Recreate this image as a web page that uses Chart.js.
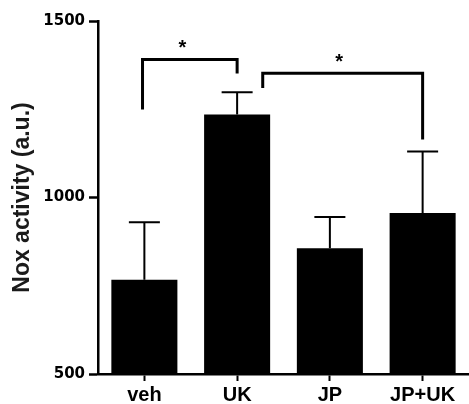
<!DOCTYPE html>
<html lang="en">
<head>
    <meta charset="UTF-8">
    <title>Nox activity</title>
    <script src="https://cdn.jsdelivr.net/npm/chart.js"></script>
    <style>
        * { margin: 0; padding: 0; box-sizing: border-box; }
        body { background: #fff; width: 469px; height: 404px; overflow: hidden; }
        .wrap { position: relative; width: 469px; height: 404px; }
    </style>
</head>
<body>
    <div class="wrap">
        <canvas id="noxChart"></canvas>
    </div>

    <script>
        // data
        const groups = ['veh', 'UK', 'JP', 'JP+UK'];
        const means = [767, 1235, 856, 956];
        const sems = [163, 63, 89, 174];
        const yTicks = [500, 1000, 1500];

        // significance brackets (x in category units, y in data units)
        const bracketFrom = [-0.02, 1.276];
        const bracketTo = [1.0, 3.0];
        const bracketTop = [1391, 1352];
        const bracketLeftEnd = [1249, 1310];
        const bracketRightEnd = [1351, 1164];
        const bracketStarAt = [0.41, 2.1];
        const bracketLabel = ['*', '*'];

        // error bars above each bar
        const errorBars = {
            id: 'errorBars',
            afterDatasetsDraw(chart) {
                const ctx = chart.ctx;
                const y = chart.scales.y;
                const meta = chart.getDatasetMeta(0);
                ctx.save();
                ctx.strokeStyle = '#000';
                ctx.lineWidth = 2;
                meta.data.forEach((bar, i) => {
                    const top = y.getPixelForValue(means[i] + sems[i]);
                    ctx.beginPath();
                    ctx.moveTo(bar.x, bar.y);
                    ctx.lineTo(bar.x, top);
                    ctx.moveTo(bar.x - 15.5, top);
                    ctx.lineTo(bar.x + 15.5, top);
                    ctx.stroke();
                });
                ctx.restore();
            }
        };

        const sigBrackets = {
            id: 'sigBrackets',
            afterDatasetsDraw(chart) {
                const ctx = chart.ctx;
                const x = chart.scales.x;
                const y = chart.scales.y;
                const x0 = x.getPixelForValue(0);
                const step = x.getPixelForValue(1) - x0;
                const px = v => x0 + v * step;
                ctx.save();
                ctx.strokeStyle = '#000';
                ctx.lineWidth = 3;
                ctx.lineJoin = 'miter';
                ctx.lineCap = 'butt';
                for (let i = 0; i < bracketFrom.length; i++) {
                    const xl = px(bracketFrom[i]);
                    const xr = px(bracketTo[i]);
                    const yt = y.getPixelForValue(bracketTop[i]);
                    ctx.beginPath();
                    ctx.moveTo(xl, y.getPixelForValue(bracketLeftEnd[i]));
                    ctx.lineTo(xl, yt);
                    ctx.lineTo(xr, yt);
                    ctx.lineTo(xr, y.getPixelForValue(bracketRightEnd[i]));
                    ctx.stroke();
                    ctx.fillStyle = '#000';
                    ctx.font = 'bold 20px "Liberation Sans", Arial, sans-serif';
                    ctx.textAlign = 'center';
                    ctx.textBaseline = 'alphabetic';
                    ctx.fillText(bracketLabel[i], px(bracketStarAt[i]), yt - 5);
                }
                ctx.restore();
            }
        };

        new Chart(document.getElementById('noxChart'), {
            type: 'bar',
            data: {
                labels: groups,
                datasets: [{
                    data: means,
                    backgroundColor: '#000',
                    borderWidth: 0,
                    barPercentage: 0.712,
                    categoryPercentage: 1.0
                }]
            },
            options: {
                responsive: true,
                maintainAspectRatio: false,
                animation: false,
                layout: { padding: { top: 21, right: 0, bottom: 0, left: 0 } },
                plugins: {
                    legend: { display: false },
                    tooltip: { enabled: false }
                },
                scales: {
                    x: {
                        grid: {
                            offset: false,
                            drawOnChartArea: false,
                            drawTicks: true,
                            tickLength: 7,
                            tickWidth: 2,
                            tickColor: '#000'
                        },
                        border: { color: '#000', width: 2.5 },
                        ticks: {
                            color: '#000',
                            padding: 2,
                            font: { family: '"Liberation Sans", Arial, sans-serif', size: 20, weight: 'bold' }
                        },
                        afterFit: s => { s.height = 30; }
                    },
                    y: {
                        min: yTicks[0],
                        max: yTicks[yTicks.length - 1],
                        afterBuildTicks: s => { s.ticks = yTicks.map(v => ({ value: v })); },
                        grid: {
                            drawOnChartArea: false,
                            drawTicks: true,
                            tickLength: 9,
                            tickWidth: 2.5,
                            tickColor: '#000'
                        },
                        border: { color: '#000', width: 2.5 },
                        ticks: {
                            color: '#000',
                            padding: 4,
                            callback: v => String(v),
                            font: { family: '"DejaVu Sans", sans-serif', size: 15, weight: 'bold' }
                        },
                        title: {
                            display: true,
                            text: 'Nox activity (a.u.)',
                            color: '#1a1a1a',
                            padding: { top: 9, bottom: 0 },
                            font: { family: '"Liberation Sans", Arial, sans-serif', size: 23, weight: 'bold' }
                        },
                        afterFit: s => { s.width = 98; }
                    }
                }
            },
            plugins: [errorBars, sigBrackets]
        });
    </script>
</body>
</html>
